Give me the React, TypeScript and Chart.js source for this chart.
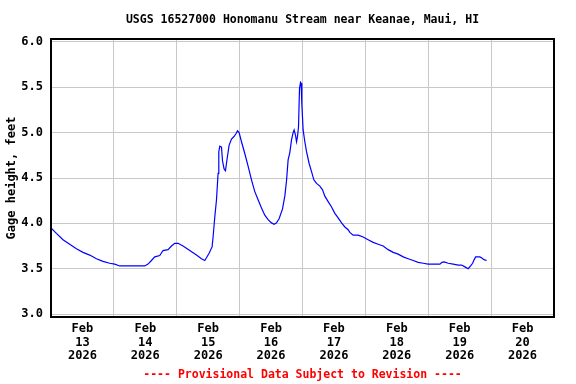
import React, { useEffect, useRef } from "react";
import { Chart, registerables } from "chart.js";

Chart.register(...registerables);

// hours since Feb 13 2026 00:00
const hours = [
  0, 2.06, 4.58, 7.14, 9.7, 12.22, 14.78, 17.34, 19.86, 22.42, 24.33, 26.24, 28.15, 30.06, 32.61, 35.78,
  37.04, 38.34, 39.6, 41.51, 42.77, 44.68, 45.98, 47.24, 48.5, 50.41, 52.97, 55.53, 57.44, 58.7, 59.35,
  60.34, 61.49, 61.87, 62.52, 63.17, 63.78, 64.05, 64.43, 65.08, 65.46, 66.07, 66.6, 67.21, 67.98, 68.89,
  69.77, 70.54, 71.19, 71.8, 72.71, 73.97, 75.23, 76.53, 77.79, 79.05, 80.35, 81.61, 82.87, 84.17, 85.16,
  86.08, 87.07, 88.37, 89.25, 89.9, 90.51, 91.16, 91.81, 92.42, 92.8, 93.34, 93.72, 94.1, 94.48, 94.86,
  95.25, 95.48, 95.74, 96.24, 96.89, 97.54, 98.53, 99.45, 100.33, 101.36, 102.62, 103.65, 104.53, 105.79,
  107.09, 108.35, 109.61, 110.91, 112.17, 113.43, 114.07, 115.33, 117.24, 119.15, 121.06, 122.97, 124.88,
  126.79, 128.7, 130.61, 132.52, 134.43, 136.34, 138.25, 140.16, 142.07, 143.98, 145.89, 148.45, 149.21,
  150.09, 151.62, 153.53, 155.44, 156.73, 158.0, 159.25, 160.17, 160.93, 161.54, 162.08, 163.72, 164.6,
  165.25, 166.28,
];

const gageHeight = [
  3.95, 3.89, 3.82, 3.77, 3.72, 3.68, 3.65, 3.61, 3.58, 3.56, 3.55, 3.53, 3.53, 3.53, 3.53, 3.53,
  3.55, 3.59, 3.63, 3.645, 3.7, 3.71, 3.75, 3.78, 3.78, 3.75, 3.7, 3.65, 3.61, 3.59, 3.62,
  3.67, 3.74, 3.85, 4.07, 4.26, 4.55, 4.79, 4.85, 4.84, 4.69, 4.6, 4.58, 4.71, 4.86, 4.93,
  4.955, 4.985, 5.02, 5.0, 4.9, 4.77, 4.63, 4.48, 4.35, 4.26, 4.17, 4.09, 4.04, 4.005, 3.99,
  4.005, 4.05, 4.16, 4.3, 4.47, 4.7, 4.78, 4.92, 5.0, 5.03, 4.97, 4.9, 4.96, 5.065, 5.49,
  5.555, 5.545, 5.32, 5.03, 4.9, 4.79, 4.66, 4.57, 4.48, 4.44, 4.41, 4.37, 4.3, 4.24,
  4.18, 4.11, 4.06, 4.005, 3.96, 3.93, 3.9, 3.87, 3.87, 3.85, 3.82, 3.79, 3.77,
  3.75, 3.71, 3.68, 3.66, 3.63, 3.61, 3.59, 3.57, 3.56, 3.55, 3.55, 3.55, 3.57,
  3.575, 3.56, 3.55, 3.54, 3.54, 3.52, 3.5, 3.53, 3.56, 3.6, 3.63, 3.63, 3.615,
  3.6, 3.59,
];

const yTickValues = [3.0, 3.5, 4.0, 4.5, 5.0, 5.5, 6.0];
const xTickHours = [0, 12, 24, 36, 48, 60, 72, 84, 96, 108, 120, 132, 144, 156, 168, 180, 192];
const dayLabels = ["13", "14", "15", "16", "17", "18", "19", "20"];
const monthLabel = "Feb";
const yearLabel = "2026";

const FONT = "'DejaVu Sans Mono', monospace";

const framePlugin = {
  id: "frame",
  afterDatasetsDraw(chart: any) {
    const { ctx, chartArea } = chart;
    ctx.save();
    ctx.strokeStyle = "#000000";
    ctx.lineWidth = 2;
    ctx.strokeRect(chartArea.left, chartArea.top, chartArea.right - chartArea.left, chartArea.bottom - chartArea.top);
    ctx.restore();
  },
};

export default function App() {
  const ref = useRef<HTMLCanvasElement | null>(null);
  useEffect(() => {
    if (!ref.current) return;
    const data = hours.map((h, i) => ({ x: h, y: gageHeight[i] }));
    const chart = new Chart(ref.current, {
      type: "line",
      data: {
        datasets: [
          {
            data,
            borderColor: "#0000ff",
            borderWidth: 1.2,
            pointRadius: 0,
            tension: 0,
            fill: false,
          },
        ],
      },
      options: {
        animation: false,
        responsive: false,
        devicePixelRatio: 1,
        layout: { padding: { left: 0, right: 22, top: 0, bottom: 0 } },
        plugins: {
          legend: { display: false },
          tooltip: { enabled: false },
          title: {
            display: true,
            text: "USGS 16527000 Honomanu Stream near Keanae, Maui, HI",
            color: "#000000",
            fullSize: false,
            font: { family: FONT, size: 11.5, weight: "bold", lineHeight: 1.2 },
            padding: { top: 13, bottom: 12.2 },
          },
          subtitle: {
            display: true,
            position: "bottom",
            text: "---- Provisional Data Subject to Revision ----",
            color: "#ff0000",
            fullSize: false,
            font: { family: FONT, size: 11.5, weight: "bold", lineHeight: 1.2 },
            padding: { top: 4, bottom: 2 },
          },
        },
        scales: {
          x: {
            type: "linear",
            min: 0,
            max: 192,
            afterFit: (s: any) => {
              s.height = 47.2;
            },
            afterBuildTicks: (s: any) => {
              s.ticks = xTickHours.map((v) => ({ value: v }));
            },
            border: { display: false },
            grid: {
              drawTicks: false,
              lineWidth: 1,
              color: (c: any) => (c.tick && c.tick.value % 24 === 0 ? "#c8c8c8" : "rgba(0,0,0,0)"),
            },
            ticks: {
              autoSkip: false,
              maxRotation: 0,
              minRotation: 0,
              padding: 5.5,
              color: "#000000",
              font: { family: FONT, size: 12, weight: "bold", lineHeight: 1.11 },
              callback: (v: any) => {
                const n = Number(v);
                if (n % 24 !== 12) return "";
                const idx = Math.floor(n / 24);
                return [monthLabel, dayLabels[idx], yearLabel];
              },
            },
          },
          y: {
            type: "linear",
            min: 2.967,
            max: 6.033,
            afterFit: (s: any) => {
              s.width = 51;
            },
            afterBuildTicks: (s: any) => {
              s.ticks = yTickValues.map((v) => ({ value: v }));
            },
            border: { display: false },
            grid: { drawTicks: false, color: "#c8c8c8", lineWidth: 1 },
            ticks: {
              padding: 8,
              color: "#000000",
              font: { family: FONT, size: 12, weight: "bold" },
              callback: (v: any) => Number(v).toFixed(1),
            },
            title: {
              display: true,
              text: "Gage height, feet",
              color: "#000000",
              font: { family: FONT, size: 12, weight: "bold", lineHeight: 1.2 },
              padding: { top: 5, bottom: 0 },
            },
          },
        },
      },
      plugins: [framePlugin],
    });
    return () => chart.destroy();
  }, []);
  return (
    <div style={{ position: "absolute", left: 0, top: 0, width: 576, height: 384, background: "#ffffff" }}>
      <canvas ref={ref} width={576} height={384} />
    </div>
  );
}
